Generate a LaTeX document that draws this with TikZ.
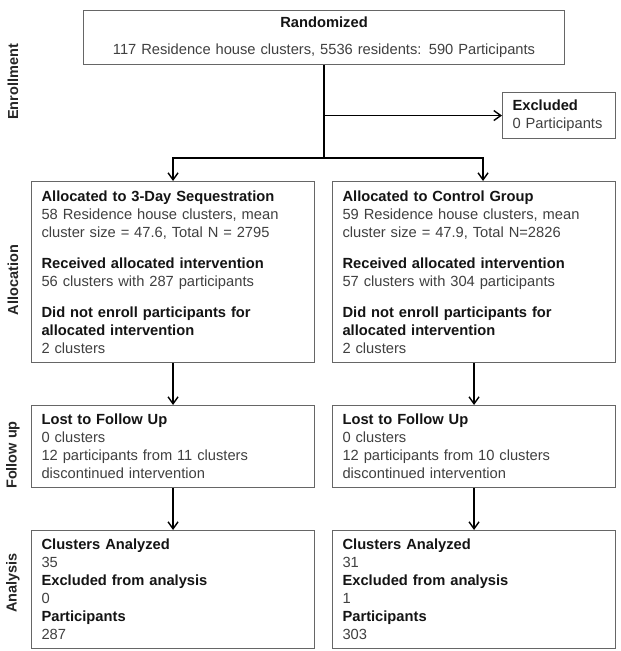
\documentclass[tikz,border=0pt]{standalone}
\usepackage{fontspec}
\setmainfont{Liberation Sans}
\usetikzlibrary{arrows.meta}
\newcommand\boxhead[1]{\textbf{\color{black!92}#1}}
\begin{document}
\begin{tikzpicture}[x=1pt,y=-1pt,
  box/.style={draw=black!60, line width=1.1pt, anchor=north west, inner xsep=10pt, inner ysep=0pt, align=left, font=\fontsize{14.7}{18}\selectfont, text=black!75},
  conn/.style={line width=1.6pt, black},
  arr/.style={conn, -{Straight Barb[length=7pt,width=10pt,line width=1.4pt]}},
  phase/.style={rotate=90, font=\fontsize{14.5}{17}\selectfont\bfseries, text=black!85},
]
\useasboundingbox (0,0) rectangle (621,651);
\fill[white] (0,0) rectangle (621,651);

\node[box, align=center, text width=461, minimum height=54] (rand) at (83,10)
  {\boxhead{Randomized}\\[9pt]117 Residence house clusters, 5536 residents: 590 Participants};
\node[box, inner xsep=10pt, text width=93, minimum height=46] (excl) at (502,92)
  {\boxhead{Excluded}\\0 Participants};

\node[box, text width=263, minimum height=181] (allocL) at (31,181)
  {\boxhead{Allocated to 3-Day Sequestration}\\58 Residence house clusters, mean\\cluster size = 47.6, Total N = 2795\\[13pt]\boxhead{Received allocated intervention}\\56 clusters with 287 participants\\[13pt]\boxhead{Did not enroll participants for}\\\boxhead{allocated intervention}\\2 clusters};
\node[box, text width=263, minimum height=181] (allocR) at (332,181)
  {\boxhead{Allocated to Control Group}\\59 Residence house clusters, mean\\cluster size = 47.9, Total N=2826\\[13pt]\boxhead{Received allocated intervention}\\57 clusters with 304 participants\\[13pt]\boxhead{Did not enroll participants for}\\\boxhead{allocated intervention}\\2 clusters};

\node[box, text width=263, minimum height=82] (fuL) at (31,405)
  {\boxhead{Lost to Follow Up}\\0 clusters\\12 participants from 11 clusters\\discontinued intervention};
\node[box, text width=263, minimum height=82] (fuR) at (332,405)
  {\boxhead{Lost to Follow Up}\\0 clusters\\12 participants from 10 clusters\\discontinued intervention};

\node[box, text width=263, minimum height=118] (anL) at (31,530)
  {\boxhead{Clusters Analyzed}\\35\\\boxhead{Excluded from analysis}\\0\\\boxhead{Participants}\\287};
\node[box, text width=263, minimum height=118] (anR) at (332,530)
  {\boxhead{Clusters Analyzed}\\31\\\boxhead{Excluded from analysis}\\1\\\boxhead{Participants}\\303};

\node[phase] (pEnr) at (13,82) {Enrollment};
\node[phase] (pAll) at (13,280) {Allocation};
\node[phase] (pFol) at (13,455) {Follow up};
\node[phase] (pAna) at (13,583) {Analysis};

\coordinate (jx) at (rand.south |- excl.west);
\coordinate (jb) at ([yshift=-93pt]rand.south);
\draw[conn] (rand.south) -- (jb);
\draw[arr] (jx) -- (excl.west);
\draw[arr] (jb) -| (allocL.north);
\draw[arr] (jb) -| ([xshift=9pt]allocR.north);
\draw[arr] (allocL.south) -- (fuL.north);
\draw[arr] (allocR.south) -- (fuR.north);
\draw[arr] (fuL.south) -- (anL.north);
\draw[arr] (fuR.south) -- (anR.north);
\end{tikzpicture}
\end{document}
